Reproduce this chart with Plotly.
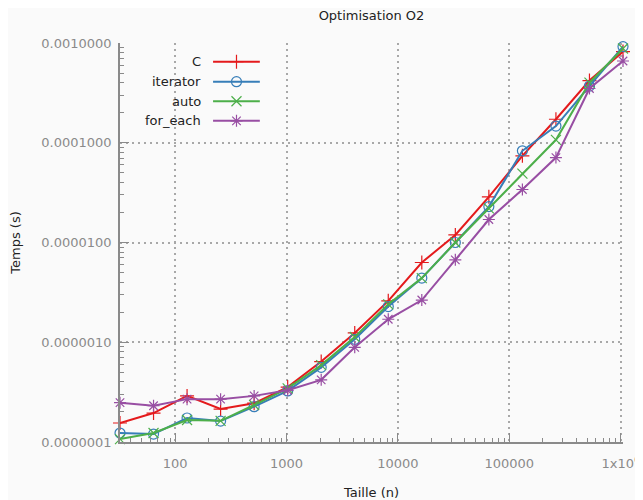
import plotly.graph_objects as go

sizes = [32, 64, 128, 256, 512, 1024, 2048, 4096, 8192, 16384, 32768,
         65536, 131072, 262144, 524288, 1048576]
c_times = [1.55e-7, 1.95e-7, 2.9e-7, 2.14e-7, 2.45e-7, 3.55e-7, 6.4e-7, 1.24e-6,
           2.6e-6, 6.3e-6, 1.19e-5, 2.87e-5, 7.4e-5, 1.72e-4, 4.2e-4, 8.2e-4]
iterator_times = [1.23e-7, 1.2e-7, 1.74e-7, 1.62e-7, 2.26e-7, 3.25e-7, 5.6e-7, 1.07e-6,
                  2.28e-6, 4.4e-6, 1.0e-5, 2.29e-5, 8.3e-5, 1.47e-4, 3.7e-4, 9.2e-4]
auto_times = [1.07e-7, 1.23e-7, 1.66e-7, 1.63e-7, 2.35e-7, 3.45e-7, 5.9e-7, 1.13e-6,
              2.4e-6, 4.4e-6, 1.0e-5, 2.2e-5, 4.9e-5, 1.07e-4, 4.0e-4, 8.8e-4]
foreach_times = [2.48e-7, 2.31e-7, 2.69e-7, 2.69e-7, 2.9e-7, 3.3e-7, 4.2e-7, 8.9e-7,
                 1.7e-6, 2.65e-6, 6.7e-6, 1.7e-5, 3.4e-5, 7.1e-5, 3.5e-4, 6.6e-4]

series_names = ["C", "iterator", "auto", "for_each"]
series_values = [c_times, iterator_times, auto_times, foreach_times]
colors = ["#e41a1c", "#377eb8", "#4daf4a", "#984ea3"]
symbols = ["cross-thin-open", "circle-open", "x-thin-open", "asterisk-open"]

x_tickvals = [100, 1000, 10000, 100000, 1000000]
x_ticktext = ["100", "1000", "10000", "100000", "1x10<sup>6</sup>"]
y_tickvals = [1e-7, 1e-6, 1e-5, 1e-4, 1e-3]
y_ticktext = ["0.0000001", "0.0000010", "0.0000100", "0.0001000", "0.0010000"]

FONT = "DejaVu Sans"
GRAY = "#8a8a8a"
GRID = "#a8a8a8"

# the page body adds an 8px offset, so the figure is 8px smaller each way
W, H = 635, 492

fig = go.Figure()
for name, vals, col, sym in zip(series_names, series_values, colors, symbols):
    fig.add_trace(go.Scatter(
        x=sizes, y=vals, name=name, mode="lines+markers",
        line=dict(color=col, width=2),
        marker=dict(symbol=sym, size=10, color=col, line=dict(color=col, width=1.2)),
        cliponaxis=False, showlegend=False))

# custom gnuplot-style legend (text on left, sample on right)
leg_y = [0.953, 0.903, 0.854, 0.805]
for i, (name, col, sym) in enumerate(zip(series_names, colors, symbols)):
    fig.add_trace(go.Scatter(
        x=[0.185, 0.278], y=[leg_y[i], leg_y[i]], mode="lines",
        line=dict(color=col, width=2), xaxis="x2", yaxis="y2",
        showlegend=False, hoverinfo="skip"))
    fig.add_trace(go.Scatter(
        x=[0.2316], y=[leg_y[i]], mode="markers",
        marker=dict(symbol=sym, size=10, color=col, line=dict(color=col, width=1.2)),
        xaxis="x2", yaxis="y2", showlegend=False, hoverinfo="skip"))
    fig.add_annotation(x=0.165, y=leg_y[i], xref="x2", yref="y2", text=name,
                       showarrow=False, xanchor="right", yanchor="middle",
                       font=dict(family=FONT, size=13, color="#222"))

fig.update_layout(
    width=W, height=H,
    margin=dict(l=112, r=20, t=35, b=58, autoexpand=False),
    paper_bgcolor="#fafafa", plot_bgcolor="#fafafa",
    font=dict(family=FONT, size=13, color="#222"),
    title=dict(text="Optimisation O2", x=363.5 / W, xanchor="center",
               y=1 - 7 / H, yanchor="middle", font=dict(size=13, color="#222")),
    xaxis=dict(
        type="log", range=[1.50510, 6.02064], automargin=False,
        tickvals=x_tickvals, ticktext=x_ticktext,
        tickfont=dict(color=GRAY, size=13),
        ticks="inside", ticklen=9, tickcolor=GRAY, tickwidth=1,
        minor=dict(ticks="inside", ticklen=4, tickcolor=GRAY, dtick="D1", showgrid=False),
        showline=True, linecolor=GRAY, linewidth=1.5,
        showgrid=True, gridcolor=GRID, griddash="2px,4px", gridwidth=1.5,
        zeroline=False, ticklabelstandoff=9,
        title=dict(text="Taille (n)", font=dict(size=13, color="#222"), standoff=19),
    ),
    yaxis=dict(
        type="log", range=[-7, -3], automargin=False,
        tickvals=y_tickvals, ticktext=y_ticktext,
        tickfont=dict(color=GRAY, size=13),
        ticks="inside", ticklen=9, tickcolor=GRAY, tickwidth=1,
        minor=dict(ticks="inside", ticklen=4, tickcolor=GRAY, dtick="D1", showgrid=False),
        showline=True, linecolor=GRAY, linewidth=1.5,
        showgrid=True, gridcolor=GRID, griddash="2px,4px", gridwidth=1.5,
        zeroline=False, ticklabelstandoff=4,
        title=dict(text="Temps (s)", font=dict(size=13, color="#222"), standoff=18),
    ),
    xaxis2=dict(overlaying="x", range=[0, 1], visible=False),
    yaxis2=dict(overlaying="y", range=[0, 1], visible=False),
)

fig.write_html("out.html")
